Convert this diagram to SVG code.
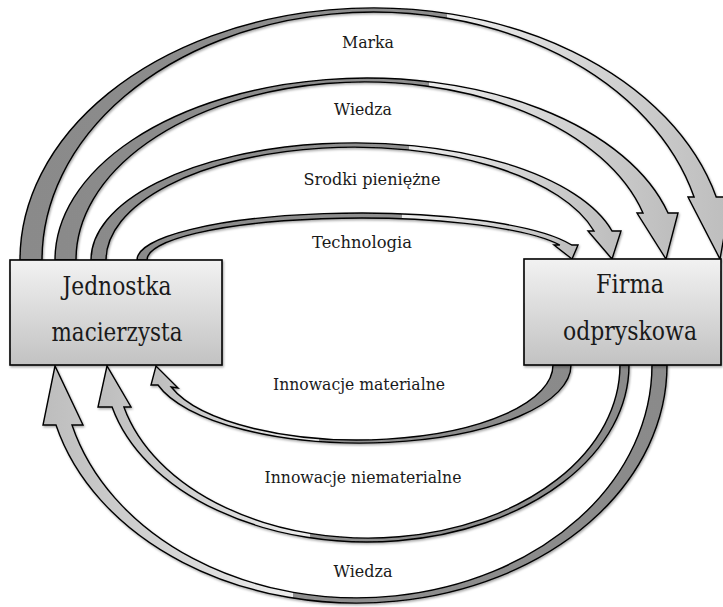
<svg xmlns="http://www.w3.org/2000/svg" width="723" height="607" viewBox="0 0 723 607">
  <defs>
    <linearGradient id="gTop" x1="0" y1="0" x2="1" y2="0">
      <stop offset="0" stop-color="#8a8a8a"/>
      <stop offset="0.6" stop-color="#8f8f8f"/>
      <stop offset="0.6" stop-color="#ececec"/>
      <stop offset="1" stop-color="#bdbdbd"/>
    </linearGradient>
    <linearGradient id="gBot" x1="1" y1="0" x2="0" y2="0">
      <stop offset="0" stop-color="#8a8a8a"/>
      <stop offset="0.6" stop-color="#8f8f8f"/>
      <stop offset="0.6" stop-color="#ececec"/>
      <stop offset="1" stop-color="#bdbdbd"/>
    </linearGradient>
    <linearGradient id="gBox" x1="0" y1="0" x2="0" y2="1">
      <stop offset="0" stop-color="#f2f2f2"/>
      <stop offset="1" stop-color="#c2c2c2"/>
    </linearGradient>
    <filter id="sh" x="-5%" y="-5%" width="110%" height="110%">
      <feDropShadow dx="1" dy="1.5" stdDeviation="1" flood-color="#000" flood-opacity="0.35"/>
    </filter>
  </defs>
  <style>
    .arrow { stroke: #000; stroke-width: 1.4; stroke-linejoin: miter; filter: url(#sh); }
    .top { fill: url(#gTop); }
    .bot { fill: url(#gBot); }
    .box { fill: url(#gBox); stroke: #000; stroke-width: 1.6; filter: url(#sh); }
    text { font-family: "DejaVu Serif", "Liberation Serif", serif; fill: #1a1a1a; text-anchor: middle; }
    .lbl { font-size: 17px; }
    .ntx { font-size: 26px; }
  </style>
  <rect width="723" height="607" fill="#fff"/>
  <g id="connectors">
    <g id="e-marka">
      <path class="arrow top" d="M 20 260 A 353.7 252 0 0 1 716.2 197 L 731 197 L 720 259 L 688 197 L 694.1 197 A 331.5 248 0 0 0 42 260 Z"/>
      <text class="lbl" x="368" y="48" textLength="52" lengthAdjust="spacingAndGlyphs">Marka</text>
    </g>
    <g id="e-wiedza-top">
      <path class="arrow top" d="M 55 260 A 311.8 182 0 0 1 668 213 L 678 213 L 666 259 L 637 213 L 643 213 A 288.6 178 0 0 0 76 260 Z"/>
      <text class="lbl" x="363" y="115" textLength="58" lengthAdjust="spacingAndGlyphs">Wiedza</text>
    </g>
    <g id="e-srodki">
      <path class="arrow top" d="M 91 260 A 264.6 117 0 0 1 612 231 L 621 231 L 612 259 L 588 231 L 594 231 A 248.2 113 0 0 0 106 260 Z"/>
      <text class="lbl" x="372" y="185" textLength="137" lengthAdjust="spacingAndGlyphs">Srodki pieniężne</text>
    </g>
    <g id="e-technologia">
      <path class="arrow top" d="M 137 260 A 223.2 47 0 0 1 571.7 245 L 578 245 L 572 259 L 554 245 L 559.9 245 A 213.5 42 0 0 0 147 260 Z"/>
      <text class="lbl" x="362" y="248" textLength="100" lengthAdjust="spacingAndGlyphs">Technologia</text>
    </g>
    <g id="e-innowacje-mat">
      <path class="arrow bot" d="M 571 365 A 210 78 0 0 1 158 385 L 151 385 L 156 366 L 178 388 L 171.2 387 A 195.2 75 0 0 0 553 365 Z"/>
      <text class="lbl" x="359" y="390" textLength="172" lengthAdjust="spacingAndGlyphs">Innowacje materialne</text>
    </g>
    <g id="e-innowacje-niemat">
      <path class="arrow bot" d="M 629 365 A 262.2 177 0 0 1 112.1 407 L 98 407 L 107 366 L 131 407 L 123.9 407 A 251.8 173 0 0 0 620 365 Z"/>
      <text class="lbl" x="363" y="483" textLength="197" lengthAdjust="spacingAndGlyphs">Innowacje niematerialne</text>
    </g>
    <g id="e-wiedza-bot">
      <path class="arrow bot" d="M 667 365 A 310.5 238 0 0 1 56 425 L 43 425 L 55 366 L 83 425 L 72 425 A 295 233 0 0 0 652 365 Z"/>
      <text class="lbl" x="363" y="577" textLength="59" lengthAdjust="spacingAndGlyphs">Wiedza</text>
    </g>
  </g>
  <g id="node-jednostka">
    <rect class="box" x="10" y="260" width="212" height="105"/>
    <text class="ntx" x="117" y="295" textLength="109" lengthAdjust="spacingAndGlyphs">Jednostka</text>
    <text class="ntx" x="117" y="341" textLength="131" lengthAdjust="spacingAndGlyphs">macierzysta</text>
  </g>
  <g id="node-firma">
    <rect class="box" x="524" y="259" width="197" height="106"/>
    <text class="ntx" x="630" y="293" textLength="68" lengthAdjust="spacingAndGlyphs">Firma</text>
    <text class="ntx" x="630" y="340" textLength="134" lengthAdjust="spacingAndGlyphs">odpryskowa</text>
  </g>
</svg>
